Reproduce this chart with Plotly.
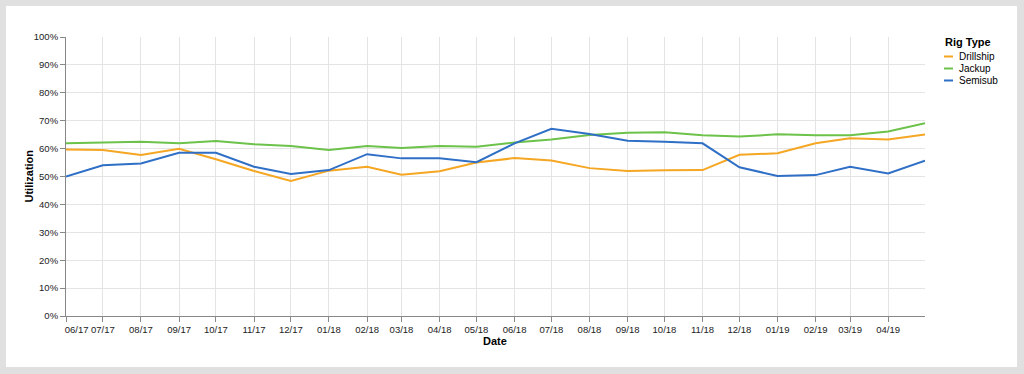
import plotly.graph_objects as go

dates = ["2017-06-01", "2017-07-01", "2017-08-01", "2017-09-01", "2017-10-01", "2017-11-01",
         "2017-12-01", "2018-01-01", "2018-02-01", "2018-03-01", "2018-04-01", "2018-05-01",
         "2018-06-01", "2018-07-01", "2018-08-01", "2018-09-01", "2018-10-01", "2018-11-01",
         "2018-12-01", "2019-01-01", "2019-02-01", "2019-03-01", "2019-04-01", "2019-05-01"]

drillship = [59.7, 59.5, 57.7, 59.9, 56.2, 52.0, 48.4, 52.1, 53.5, 50.6, 51.9, 55.0,
             56.6, 55.7, 53.0, 52.0, 52.2, 52.3, 57.8, 58.3, 61.9, 63.7, 63.3, 65.1]
jackup = [61.9, 62.1, 62.5, 61.9, 62.7, 61.6, 60.9, 59.5, 60.9, 60.2, 60.9, 60.7,
          62.2, 63.3, 64.9, 65.7, 65.9, 64.8, 64.3, 65.1, 64.8, 64.8, 66.1, 69.1]
semisub = [50.0, 54.0, 54.7, 58.5, 58.5, 53.5, 50.9, 52.3, 58.0, 56.5, 56.5, 55.1,
           61.9, 67.1, 65.2, 62.8, 62.5, 61.9, 53.3, 50.2, 50.5, 53.5, 51.1, 55.7]

series_names = ["Drillship", "Jackup", "Semisub"]
series_values = [drillship, jackup, semisub]
series_colors = ["#f5a623", "#6cc24a", "#2f6fc6"]

tick_dates = dates[:-1]
tick_labels = ["06/17", "07/17", "08/17", "09/17", "10/17", "11/17", "12/17", "01/18",
               "02/18", "03/18", "04/18", "05/18", "06/18", "07/18", "08/18", "09/18",
               "10/18", "11/18", "12/18", "01/19", "02/19", "03/19", "04/19"]
y_ticks = [0, 10, 20, 30, 40, 50, 60, 70, 80, 90, 100]
y_labels = [f"{v}%" for v in y_ticks]

W, H = 1024, 374
L, R, T, B = 66, 99, 37, 58
pw, ph = W - L - R, H - T - B

def px_x(x):
    return (x - L) / pw

def px_y(y):
    return (H - B - y) / ph

font = "Liberation Sans, Arial, Helvetica, sans-serif"
text_col = "#222"
tick_size = 9.5

# first label is flush-left against the axis start, as in the source
shown_labels = ["\u00a0" * 8 + tick_labels[0]] + tick_labels[1:]

fig = go.Figure()
for name, vals, col in zip(series_names, series_values, series_colors):
    fig.add_trace(go.Scatter(x=dates, y=vals, mode="lines", name=name,
                             line=dict(color=col, width=2), showlegend=False))

shapes = [dict(type="rect", xref="paper", yref="paper", layer="below",
               x0=px_x(6), x1=px_x(1017), y0=px_y(367), y1=px_y(6),
               fillcolor="white", line=dict(width=0))]
annotations = [
    dict(text="<b>Rig Type</b>", xref="paper", yref="paper", x=px_x(943), y=px_y(42),
         xanchor="left", yanchor="middle", showarrow=False,
         font=dict(family=font, size=11, color="#000")),
    dict(text="<b>Date</b>", xref="paper", yref="paper", x=px_x(495), y=px_y(340.5),
         xanchor="center", yanchor="middle", showarrow=False,
         font=dict(family=font, size=11, color="#000")),
    dict(text="<b>Utilization</b>", xref="paper", yref="paper", x=px_x(28), y=px_y(176.5),
         xanchor="center", yanchor="middle", showarrow=False, textangle=-90,
         font=dict(family=font, size=11, color="#000")),
]
for i, (name, col) in enumerate(zip(series_names, series_colors)):
    yy = 56.5 + i * 12
    shapes.append(dict(type="line", xref="paper", yref="paper",
                       x0=px_x(944), x1=px_x(953), y0=px_y(yy), y1=px_y(yy),
                       line=dict(color=col, width=2)))
    annotations.append(dict(text=name, xref="paper", yref="paper", x=px_x(957), y=px_y(yy),
                            xanchor="left", yanchor="middle", showarrow=False,
                            font=dict(family=font, size=10, color="#000")))

fig.update_layout(
    width=W, height=H,
    margin=dict(l=L, r=R, t=T, b=B, pad=0),
    paper_bgcolor="#e0e0e0",
    plot_bgcolor="white",
    font=dict(family=font, size=10, color=text_col),
    shapes=shapes,
    annotations=annotations,
    showlegend=False,
)
fig.update_xaxes(
    type="date", range=["2017-06-01", "2019-05-01"],
    tickvals=tick_dates, ticktext=shown_labels, tickangle=0,
    showgrid=True, gridcolor="#e4e4e4", gridwidth=1,
    showline=True, linecolor="#888", linewidth=1,
    ticks="outside", ticklen=5, tickcolor="#888",
    tickfont=dict(family=font, size=tick_size, color=text_col),
    zeroline=False, fixedrange=True,
)
fig.update_yaxes(
    range=[0, 100], tickvals=y_ticks, ticktext=y_labels,
    showgrid=True, gridcolor="#e4e4e4", gridwidth=1,
    showline=True, linecolor="#888", linewidth=1,
    ticks="outside", ticklen=5, tickcolor="#888",
    tickfont=dict(family=font, size=tick_size, color=text_col),
    zeroline=False, fixedrange=True,
)

fig.write_html("out.html", config={"displayModeBar": False},
               post_script="document.body.style.margin='0';document.body.style.overflow='hidden';")
